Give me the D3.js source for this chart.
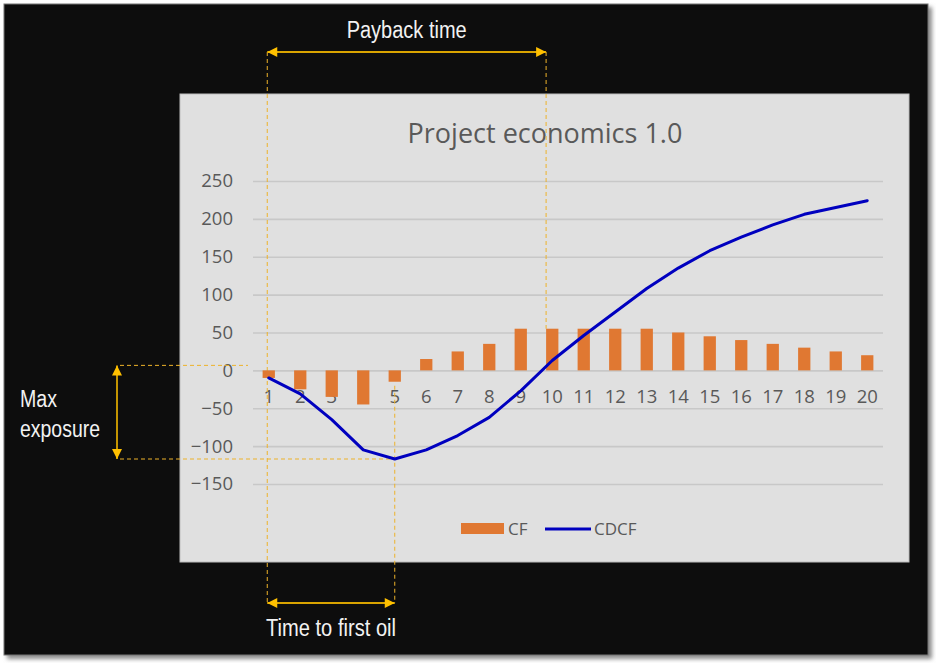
<!DOCTYPE html>
<html>
<head>
<meta charset="utf-8">
<script src="https://cdnjs.cloudflare.com/ajax/libs/d3/7.8.5/d3.min.js"></script>
<style>
body { margin: 0; background: #fff; }
svg text { font-family: "Open Sans", sans-serif; }
.note { font-family: "Liberation Sans", Arial, sans-serif; fill: #f2f2f2; font-size: 23px; }
</style>
</head>
<body>
<div id="chart"></div>
<script>
// chart values
const years = ["1", "2", "3", "4", "5", "6", "7", "8", "9", "10",
               "11", "12", "13", "14", "15", "16", "17", "18", "19", "20"];
const cf = [-10, -25, -35, -45, -15, 15, 25, 35, 55, 55,
            55, 55, 55, 50, 45, 40, 35, 30, 25, 20];
const cdcf = [-10, -31, -65, -105, -117, -105, -86, -62, -27, 13,
              46, 77, 108, 135, 158, 176, 192, 206, 215, 224];
const yTicks = [-150, -100, -50, 0, 50, 100, 150, 200, 250];

const width = 936, height = 663;
const plot = {left: 253, right: 883, top: 181, bottom: 484};
const gold = "#FFC000", dashGold = "#EDB22A";
const orange = "#E07832", blue = "#0000BF", grey = "#595959";

const svg = d3.select("#chart")
    .append("svg")
    .attr("width", width)
    .attr("height", height);

// shadow + black slide frame
const defs = svg.append("defs");
defs.append("filter").attr("id", "blur")
    .append("feGaussianBlur").attr("stdDeviation", 2);

svg.append("rect")
    .attr("x", 7).attr("y", 7).attr("width", 925).attr("height", 652)
    .attr("fill", "#8c8c8c").attr("filter", "url(#blur)");
svg.append("rect")
    .attr("x", 4).attr("y", 4).attr("width", 924).attr("height", 651)
    .attr("fill", "#0d0d0d").attr("stroke", "#777").attr("stroke-width", 1);

// chart panel
svg.append("rect")
    .attr("x", 180).attr("y", 94).attr("width", 729).attr("height", 468)
    .attr("fill", "#e0e0e0").attr("stroke", "#bdbdbd");

svg.append("text")
    .attr("x", 545).attr("y", 143)
    .attr("text-anchor", "middle")
    .attr("font-size", 27)
    .attr("fill", grey)
    .text("Project economics 1.0");

// scales
const x = d3.scaleBand()
    .domain(years)
    .range([plot.left, plot.right])
    .paddingInner(0.61)
    .paddingOuter(0.305);
const xc = d => x(d) + x.bandwidth() / 2;

const y = d3.scaleLinear()
    .domain([-150, 250])
    .range([plot.bottom, plot.top]);

// y axis + gridlines
const yAxis = svg.append("g")
    .attr("transform", `translate(${plot.left},0)`)
    .call(d3.axisLeft(y).tickValues(yTicks).tickSize(-(plot.right - plot.left)).tickPadding(20));
yAxis.select(".domain").remove();
yAxis.selectAll("line").attr("stroke", "#c8c8c8").attr("stroke-width", 1.6);
yAxis.selectAll("text")
    .attr("fill", grey)
    .attr("font-size", 18.5)
    .style("font-family", "'Open Sans', sans-serif");

// x axis labels at zero
const xAxis = svg.append("g")
    .attr("transform", `translate(0,${y(0)})`)
    .call(d3.axisBottom(x).tickSize(0).tickPadding(19));
xAxis.select(".domain").remove();
xAxis.selectAll("text")
    .attr("fill", grey)
    .attr("font-size", 18.5)
    .style("font-family", "'Open Sans', sans-serif");

// annotation positions
const xa = xc("1") - 1.5;
const xb = x("10");
const xf = xc("5");
const yMin = y(d3.min(cdcf));
const arrowY = 52, oilY = 603, expX = 117;

function dashed(x1, y1, x2, y2) {
    svg.append("line")
        .attr("x1", x1).attr("y1", y1).attr("x2", x2).attr("y2", y2)
        .attr("stroke", dashGold)
        .attr("stroke-width", 1)
        .attr("stroke-dasharray", "4,3");
}

dashed(xa, arrowY, xa, oilY);
dashed(xb, arrowY, xb, y(cf[9]));
dashed(xf, y(cf[4]) + 4, xf, oilY);
dashed(120, y(0) - 5, 248, y(0) - 5);
dashed(120, yMin, xf, yMin);

// bars
svg.selectAll(".cf")
    .data(years)
    .enter()
    .append("rect")
    .attr("class", "cf")
    .attr("x", d => x(d))
    .attr("y", (d, i) => Math.min(y(cf[i]), y(0)))
    .attr("width", x.bandwidth())
    .attr("height", (d, i) => Math.abs(y(cf[i]) - y(0)))
    .attr("fill", orange);

// cumulative line
const line = d3.line()
    .x((d, i) => xc(years[i]))
    .y(d => y(d));

svg.append("path")
    .datum(cdcf)
    .attr("fill", "none")
    .attr("stroke", blue)
    .attr("stroke-width", 3)
    .attr("stroke-linejoin", "round")
    .attr("stroke-linecap", "round")
    .attr("d", line);

// legend
svg.append("rect")
    .attr("x", 461).attr("y", 523).attr("width", 43).attr("height", 11)
    .attr("fill", orange);
svg.append("text")
    .attr("x", 508).attr("y", 535)
    .attr("font-size", 17).attr("fill", grey)
    .text("CF");
svg.append("line")
    .attr("x1", 545).attr("x2", 591).attr("y1", 529).attr("y2", 529)
    .attr("stroke", blue).attr("stroke-width", 3);
svg.append("text")
    .attr("x", 594).attr("y", 535)
    .attr("font-size", 17).attr("fill", grey)
    .text("CDCF");

// arrows
function arrow(x1, y1, x2, y2) {
    svg.append("line")
        .attr("x1", x1).attr("y1", y1).attr("x2", x2).attr("y2", y2)
        .attr("stroke", "#D9A400").attr("stroke-width", 1.8);
    [[x1, y1, x2, y2], [x2, y2, x1, y1]].forEach(function(p) {
        const a = Math.atan2(p[1] - p[3], p[0] - p[2]);
        const len = 10, half = 5;
        const bx = p[0] - Math.cos(a) * len, by = p[1] - Math.sin(a) * len;
        const nx = -Math.sin(a) * half, ny = Math.cos(a) * half;
        svg.append("path")
            .attr("d", `M${p[0]},${p[1]}L${bx + nx},${by + ny}L${bx - nx},${by - ny}Z`)
            .attr("fill", gold);
    });
}

arrow(xa, arrowY, xb, arrowY);
arrow(xa, oilY, xf, oilY);
arrow(expX, y(0) - 5, expX, yMin);

// condensed annotation labels
function note(tx, ty, anchor, len, label) {
    svg.append("text").attr("class", "note")
        .attr("x", tx).attr("y", ty)
        .attr("text-anchor", anchor)
        .attr("textLength", len)
        .attr("lengthAdjust", "spacingAndGlyphs")
        .text(label);
}

note((xa + xb) / 2, 38, "middle", 120, "Payback time");
note((xa + xf) / 2, 636, "middle", 130, "Time to first oil");
note(20, 407, "start", 37, "Max");
note(20, 437, "start", 80, "exposure");
</script>
</body>
</html>
